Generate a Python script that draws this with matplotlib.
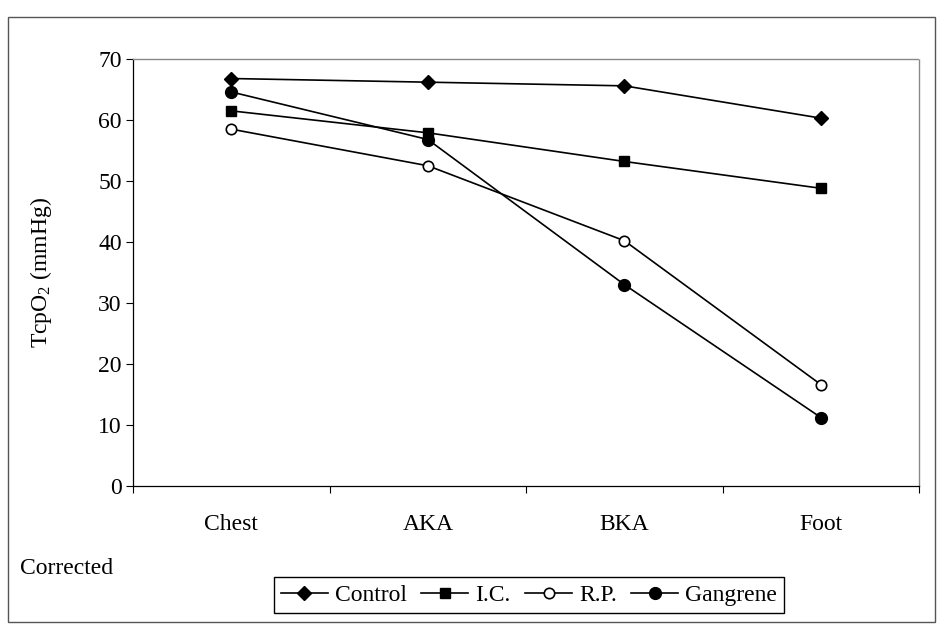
import matplotlib.pyplot as plt
from matplotlib.patches import Rectangle

plt.rcParams['font.family'] = ['Liberation Serif', 'DejaVu Serif']
plt.rcParams['mathtext.fontset'] = 'custom'
plt.rcParams['mathtext.rm'] = 'Liberation Serif'
plt.rcParams['mathtext.it'] = 'Liberation Serif'

# TcpO2 readings per site for each patient group
sites = ['Chest', 'AKA', 'BKA', 'Foot']
control = [66.8, 66.2, 65.6, 60.3]
ic = [61.5, 57.9, 53.2, 48.8]
rp = [58.5, 52.5, 40.2, 16.6]
gangrene = [64.6, 56.8, 33.0, 11.2]
yticks = [0, 10, 20, 30, 40, 50, 60, 70]

fs = 17

fig = plt.figure(figsize=(9.39, 6.27), dpi=100)
ax = fig.add_axes([0.1416, 0.2249, 0.8375, 0.681])

x = range(len(sites))
ax.plot(x, control, color='black', lw=1.2, marker='D', ms=7,
        mfc='black', mec='black', label='Control')
ax.plot(x, ic, color='black', lw=1.2, marker='s', ms=7.5,
        mfc='black', mec='black', label='I.C.')
ax.plot(x, rp, color='black', lw=1.2, marker='o', ms=7.5,
        mfc='white', mec='black', mew=1.2, label='R.P.')
ax.plot(x, gangrene, color='black', lw=1.2, marker='o', ms=8.5,
        mfc='black', mec='black', label='Gangrene')

ax.set_xlim(-0.5, 3.5)
ax.set_ylim(0, 70)
ax.set_yticks(yticks)
ax.set_xticks([-0.5, 0.5, 1.5, 2.5, 3.5], minor=False)
ax.set_xticklabels([])
ax.set_xticks(list(x), minor=True)
ax.set_xticklabels(sites, minor=True, fontsize=fs)
ax.tick_params(axis='x', which='minor', length=0, pad=20)
ax.tick_params(axis='x', which='major', direction='out', length=5, width=0.8)
ax.tick_params(axis='y', direction='out', length=5, width=0.8, labelsize=fs, pad=3)

# plot area: solid axes on left/bottom, dotted grey border elsewhere
ax.spines['left'].set_linewidth(0.9)
ax.spines['bottom'].set_linewidth(0.9)
for side in ('top', 'right'):
    ax.spines[side].set_color('#888888')
    ax.spines[side].set_linestyle((0, (1, 1)))
    ax.spines[side].set_linewidth(1.0)

ax.set_ylabel('TcpO$_2$ (mmHg)', fontsize=fs, labelpad=32)

# outer chart border
fig.patches.append(Rectangle((8 / 939, 1 - 622 / 627), 927 / 939, 605 / 627,
                             transform=fig.transFigure, fill=False,
                             edgecolor='#555555', lw=1.0))

fig.text(20 / 939, 1 - 568 / 627, 'Corrected', fontsize=fs, va='center', ha='left')

fig.legend(loc='center', bbox_to_anchor=(529 / 939, 1 - 595 / 627), ncol=4,
           fontsize=fs, frameon=True, fancybox=False, edgecolor='black',
           handlelength=2.0, handletextpad=0.3, columnspacing=0.6,
           borderpad=0.3, framealpha=1)

fig.savefig('out.png', dpi=100)
